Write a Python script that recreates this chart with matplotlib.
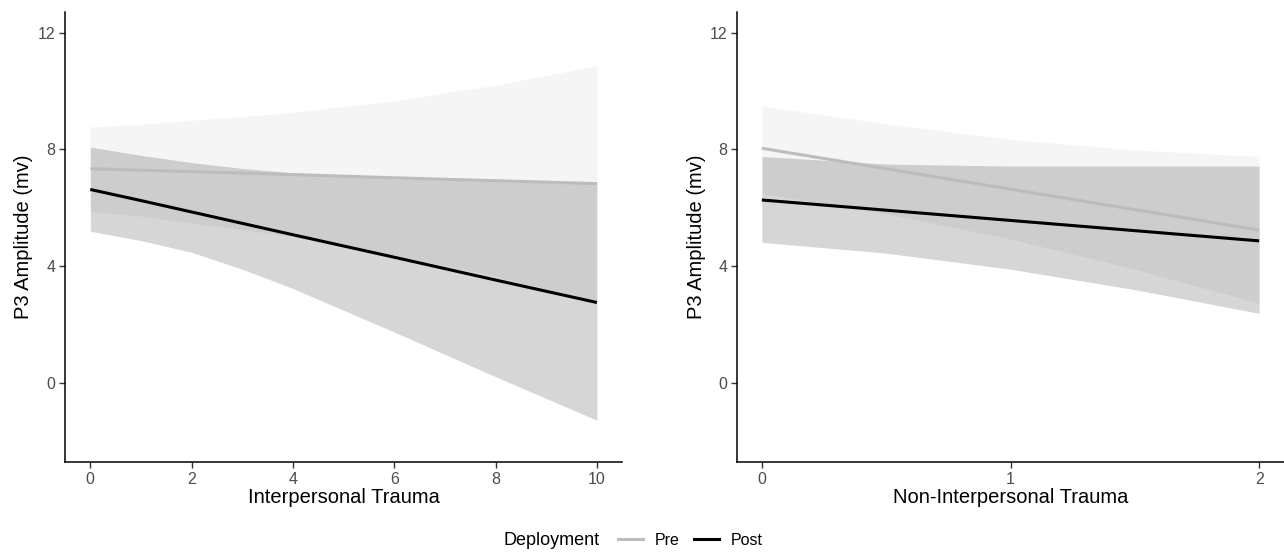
import numpy as np
import matplotlib
matplotlib.use("Agg")
import matplotlib.pyplot as plt

plt.rcParams['font.family'] = ['Liberation Sans', 'DejaVu Sans']

# left panel: Interpersonal Trauma
x_inter = [0, 1, 2, 3, 4, 6, 8, 10]
pre_inter = [7.34, 7.29, 7.24, 7.19, 7.14, 7.03, 6.93, 6.83]
pre_inter_hi = [8.77, 8.86, 9.0, 9.12, 9.27, 9.67, 10.2, 10.87]
pre_inter_lo = [5.88, 5.72, 5.48, 5.26, 5.01, 4.39, 3.66, 2.79]
post_inter = [6.63, 6.25, 5.86, 5.47, 5.08, 4.31, 3.53, 2.76]
post_inter_hi = [8.08, 7.8, 7.55, 7.35, 7.2, 7.0, 6.92, 6.86]
post_inter_lo = [5.2, 4.88, 4.48, 3.9, 3.24, 1.75, 0.22, -1.27]

# right panel: Non-Interpersonal Trauma
x_non = [0, 0.5, 1, 1.5, 2]
pre_non = [8.04, 7.34, 6.64, 5.94, 5.24]
pre_non_hi = [9.48, 8.88, 8.34, 7.98, 7.76]
pre_non_lo = [6.5, 5.8, 4.94, 3.9, 2.74]
post_non = [6.27, 5.92, 5.57, 5.22, 4.87]
post_non_hi = [7.76, 7.5, 7.43, 7.43, 7.43]
post_non_lo = [4.82, 4.45, 3.9, 3.2, 2.39]

y_ticks = [0, 4, 8, 12]

PRE_COL = '#bcbcbc'
POST_COL = '#000000'


def draw_panel(ax, x, pre, pre_lo, pre_hi, post, post_lo, post_hi, xlabel, xticks, xlim):
    ax.fill_between(x, pre_lo, pre_hi, color='#c8c8c8', alpha=0.18, lw=0)
    ax.fill_between(x, post_lo, post_hi, color='black', alpha=0.16, lw=0)
    ax.plot(x, pre, color=PRE_COL, lw=2.2, solid_capstyle='butt')
    ax.plot(x, post, color=POST_COL, lw=2.2, solid_capstyle='butt')
    ax.set_xlim(xlim)
    ax.set_ylim(-2.7, 12.7)
    ax.set_xticks(xticks)
    ax.set_yticks(y_ticks)
    ax.set_xlabel(xlabel, fontsize=14.5, color='black', labelpad=1)
    ax.set_ylabel('P3 Amplitude (mv)', fontsize=14.5, color='black', labelpad=3)
    for s in ['top', 'right']:
        ax.spines[s].set_visible(False)
    for s in ['left', 'bottom']:
        ax.spines[s].set_linewidth(1.1)
    ax.tick_params(length=4, width=1, colors='#333333', labelsize=11.5, labelcolor='#4d4d4d', pad=3)


fig = plt.figure(figsize=(12.84, 5.52), dpi=100)
ax1 = fig.add_axes([0.0506, 0.163, 0.434, 0.815])
ax2 = fig.add_axes([0.574, 0.163, 0.426, 0.815])

draw_panel(ax1, x_inter, pre_inter, pre_inter_lo, pre_inter_hi,
           post_inter, post_inter_lo, post_inter_hi,
           'Interpersonal Trauma', [0, 2, 4, 6, 8, 10], (-0.5, 10.5))
draw_panel(ax2, x_non, pre_non, pre_non_lo, pre_non_hi,
           post_non, post_non_lo, post_non_hi,
           'Non-Interpersonal Trauma', [0, 1, 2], (-0.1, 2.1))

# legend at bottom
fig.text(0.467, 0.021, 'Deployment', fontsize=13, ha='right', va='center')
h_pre, = ax1.plot([], [], color=PRE_COL, lw=2.2)
h_post, = ax1.plot([], [], color=POST_COL, lw=2.2)
fig.legend([h_pre, h_post], ['Pre', 'Post'], loc='center left', bbox_to_anchor=(0.481, 0.021),
           ncol=2, frameon=False, fontsize=11.5, handlelength=1.6, handletextpad=0.7,
           columnspacing=0.9, borderaxespad=0, borderpad=0)

fig.savefig('out.png', dpi=100)
